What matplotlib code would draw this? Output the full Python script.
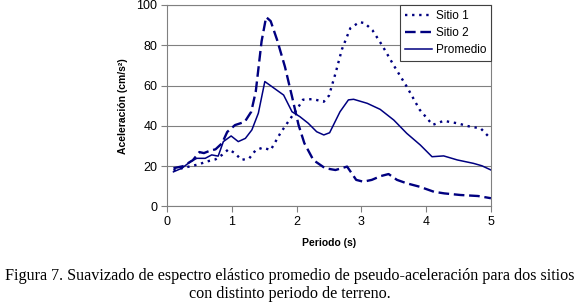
import matplotlib
matplotlib.use("Agg")
import matplotlib.pyplot as plt

# periodos (s) y aceleraciones (cm/s2)
periodo_s1 = [0.1, 0.3, 0.5, 0.6, 0.75, 0.85, 0.95, 1.05, 1.15, 1.27, 1.37, 1.48,
              1.6, 1.75, 1.88, 2.0, 2.1, 2.25, 2.42, 2.5, 2.6, 2.7, 2.83, 2.97,
              3.05, 3.17, 3.32, 3.5, 3.7, 3.9, 4.1, 4.27, 4.48, 4.68, 4.84, 5.0]
sitio_1 = [18, 19.5, 21, 22.2, 23.4, 25.6, 28.4, 26.4, 23.1, 23.9, 28, 29.2,
           28, 36.4, 42.5, 48, 53, 53.3, 52, 55, 66, 78, 88.5, 91.5,
           91, 87.5, 80, 70, 59.5, 48, 40.5, 42.5, 41.3, 39.6, 38.8, 33.5]

periodo_s2 = [0.1, 0.25, 0.4, 0.5, 0.57, 0.65, 0.75, 0.85, 0.93, 1.05, 1.2, 1.3,
              1.37, 1.46, 1.53, 1.6, 1.7, 1.82, 1.93, 2.03, 2.12, 2.26, 2.44, 2.6,
              2.78, 2.92, 3.03, 3.16, 3.3, 3.42, 3.55, 3.7, 3.9, 4.12, 4.28, 4.53,
              4.8, 5.0]
sitio_2 = [19, 20, 23, 27, 26.5, 27.5, 28.4, 31.4, 37, 40.4, 42, 47,
           57, 82, 94, 92, 82.6, 69.4, 54.5, 40.5, 31.4, 23, 19, 18.1,
           19.8, 13.2, 12.3, 13.2, 15.1, 16.1, 13.2, 11.5, 9.8, 7.3, 6.5, 5.7,
           5.2, 4.1]

periodo_prom = [0.1, 0.23, 0.36, 0.46, 0.59, 0.69, 0.79, 0.87, 0.99, 1.1, 1.21, 1.31,
                1.41, 1.51, 1.8, 1.93, 2.05, 2.18, 2.31, 2.42, 2.51, 2.67, 2.8, 2.88,
                3.09, 3.29, 3.5, 3.7, 3.91, 4.09, 4.27, 4.48, 4.73, 4.86, 5.0]
promedio = [17.2, 19, 22.2, 23.9, 23.9, 25.6, 25, 32.2, 35, 32.2, 33.8, 38,
            46.3, 62, 55.3, 47, 44.6, 41.3, 37.1, 35.5, 36.6, 47, 52.9, 53.2,
            51.2, 48.2, 42.9, 36.3, 30.5, 24.7, 25.1, 23.1, 21.4, 20.2, 18.1]

x_ticks = [0, 1, 2, 3, 4, 5]
y_ticks = [0, 20, 40, 60, 80, 100]

azul = "#000080"
gris = "#808080"
sans = "Liberation Sans"

fig = plt.figure(figsize=(5.8, 3.07), dpi=100)
ax = fig.add_axes([0.2879, 0.3274, 0.5586, 0.6564])

ax.plot(periodo_s1, sitio_1, color=azul, lw=1.7, dashes=(1, 2),
        dash_capstyle="butt", label="Sitio 1")
ax.plot(periodo_s2, sitio_2, color=azul, lw=1.7, dashes=(4.5, 2),
        dash_capstyle="butt", label="Sitio 2")
ax.plot(periodo_prom, promedio, color=azul, lw=1.1, label="Promedio")

ax.set_xlim(0, 5)
ax.set_ylim(0, 100)
ax.set_xticks(x_ticks)
ax.set_yticks(y_ticks)
ax.grid(axis="y", color=gris, lw=0.8)
ax.set_axisbelow(True)
for s in ax.spines.values():
    s.set_color(gris)
    s.set_linewidth(0.8)
ax.tick_params(direction="out", length=4, width=0.8, color=gris,
               labelsize=9, pad=3)
for lab in ax.get_xticklabels() + ax.get_yticklabels():
    lab.set_fontfamily(sans)

ax.set_xlabel("Periodo (s)", fontfamily=sans, fontweight="bold",
              fontsize=7.5, labelpad=7)
ax.set_ylabel("Aceleración (cm/s²)", fontfamily=sans, fontweight="bold",
              fontsize=7.5, labelpad=6)

leg = ax.legend(loc="upper right", bbox_to_anchor=(1.0, 1.0), borderaxespad=0,
                fancybox=False, framealpha=1, edgecolor="#404040",
                prop={"family": sans, "size": 8.5}, handlelength=2.3,
                handletextpad=0.3, labelspacing=0.45, borderpad=0.4)
leg.get_frame().set_linewidth(0.8)

fig.text(0.5, 0.072,
         "Figura 7. Suavizado de espectro elástico promedio de pseudo-aceleración para dos sitios\n"
         "con distinto periodo de terreno.",
         ha="center", va="center", fontfamily="Liberation Serif", fontsize=11.6,
         linespacing=1.2)

fig.savefig("out.png", dpi=100)
